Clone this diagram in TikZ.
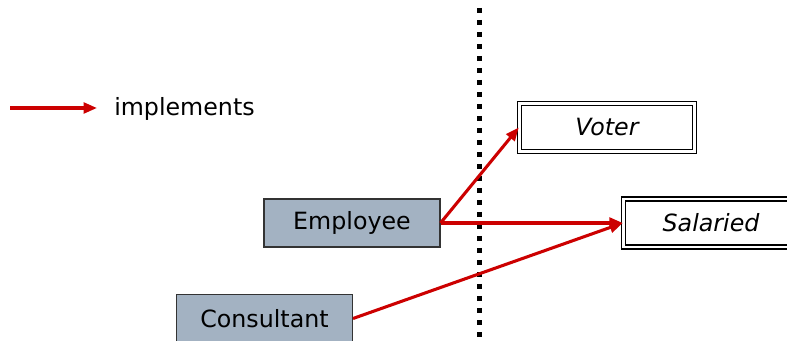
\documentclass[tikz,border=0pt]{standalone}
\usepackage{fontspec}
\setmainfont{DejaVu Sans}
\usetikzlibrary{arrows.meta}
\definecolor{impred}{RGB}{204,0,0}
\definecolor{classfill}{RGB}{163,178,194}
\tikzset{
  labelfont/.style={font=\fontsize{17.8pt}{21pt}\selectfont},
  classbox/.style={draw=black!80, line width=0.8pt, fill=classfill, minimum width=176*0.75pt, minimum height=48*0.75pt, inner sep=0pt, labelfont},
  ifacebox/.style={draw=black, line width=1.1pt, double, double distance=1.7pt, minimum width=175*0.75pt, minimum height=48*0.75pt, inner sep=0pt, font=\fontsize{17.8pt}{21pt}\selectfont\itshape},
  implarrow/.style={draw=impred, line width=2.3pt, -{Triangle[length=10pt,width=8pt]}},
  divider/.style={draw=black, line width=3.75pt, dash pattern=on 3.75pt off 5.25pt},
}
\begin{document}
\begin{tikzpicture}[x=0.75pt,y=-0.75pt]
\useasboundingbox (0,0) rectangle (787,341);
\draw[divider] (479,8) -- (479,341);
\coordinate (legA) at (10,108);
\coordinate (legB) at (97,108);
\draw[implarrow] (legA) -- (legB);
\node[anchor=west, labelfont, inner sep=0pt] (legtext) at (114,109) {implements};
\node[ifacebox] (voter) at (607,127.5) {Voter};
\node[ifacebox] (salaried) at (711,223) {Salaried};
\node[classbox] (employee) at (352,223) {Employee};
\node[classbox] (consultant) at (264.5,318.5) {Consultant};
\draw[implarrow] (employee.east) -- (voter.west);
\draw[implarrow] (employee.east) -- (salaried.west);
\draw[implarrow] (consultant.east) -- (salaried.west);
\end{tikzpicture}
\end{document}
